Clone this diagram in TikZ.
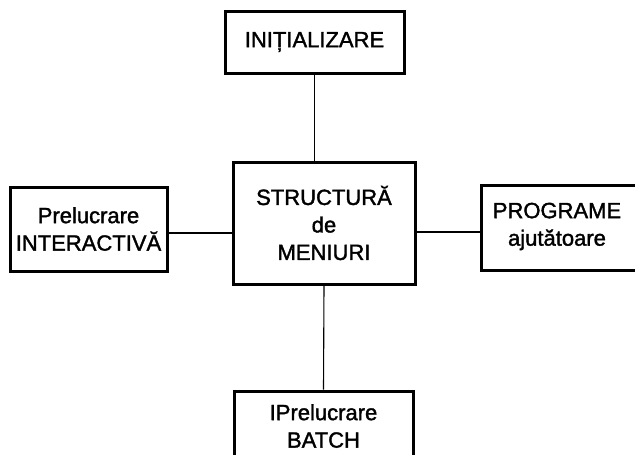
\documentclass[tikz,border=0pt]{standalone}
\usepackage{fontspec}
\setmainfont[FakeBold=1.6]{Liberation Sans}
\begin{document}
\begin{tikzpicture}[x=1pt,y=-1pt,
  lbl/.style={align=center,font=\fontsize{22}{27.5}\selectfont,inner sep=0pt},
  box/.style={lbl,draw,line width=3pt,rectangle},
  link/.style={line width=1.1pt}]
\useasboundingbox (0,0) rectangle (635,455);
\node[box,minimum width=179pt,minimum height=62pt] (init) at (314.5,42) {INIȚIALIZARE};
\node[box,minimum width=182pt,minimum height=122pt] (menu) at (324,223) {STRUCTURĂ\\de\\MENIURI};
\node[box,minimum width=157pt,minimum height=84pt] (inter) at (88.5,229) {Prelucrare\\INTERACTIVĂ};
\node[box,minimum width=170pt,minimum height=85pt,anchor=west] (prog) at (480,227.5) {};
\node[lbl] (progtext) at (557,226.5) {PROGRAME\\ajutătoare};
\node[box,minimum width=179pt,minimum height=70pt] (batch) at (323.5,426) {IPrelucrare\\BATCH};
\draw[link] (init.south) -- (init.south |- menu.north);
\draw[link] (inter.east |- 0,233) coordinate (a) -- (a -| menu.west);
\draw[link] (menu.east |- 0,232) coordinate (b) -- (b -| prog.west);
\draw[link] (menu.south) -- (batch.north);
\end{tikzpicture}
\end{document}
